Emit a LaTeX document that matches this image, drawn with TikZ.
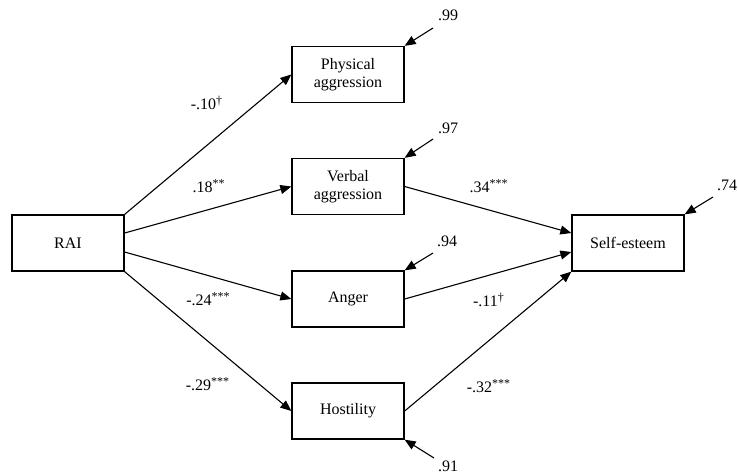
\documentclass[tikz,border=0pt]{standalone}
\usepackage{fontspec}
\setmainfont{Liberation Serif}
\usetikzlibrary{arrows.meta}
\tikzset{
  var/.style={draw, line width=0.65pt, minimum width=56pt, minimum height=28pt, inner sep=0pt, align=center, font=\fontsize{8}{9.2}\selectfont},
  path/.style={line width=0.55pt, -{Triangle[length=5.5pt,width=4.5pt]}},
  coef/.style={font=\fontsize{8}{9.2}\selectfont, inner sep=0pt},
}
\begin{document}
\begin{tikzpicture}[x=0.5pt,y=-0.5pt]
\useasboundingbox (0,0) rectangle (738,473);
% variables
\node[var] (rai) at (68,243) {RAI};
\node[var] (phys) at (348,74.5) {Physical\\aggression};
\node[var] (verb) at (348,186.5) {Verbal\\aggression};
\node[var] (ang) at (348,299) {Anger};
\node[var] (host) at (348,411) {Hostility};
\node[var] (self) at (628,243) {Self-esteem};
% paths from RAI
\draw[path] (rai.north east) -- (phys.west);
\draw[path] ([yshift=5pt]rai.east) -- (verb.west);
\draw[path] ([yshift=-4.5pt]rai.east) -- (ang.west);
\draw[path] (rai.south east) -- (host.west);
% paths to self-esteem
\draw[path] (verb.east) -- ([yshift=5pt]self.west);
\draw[path] (ang.east) -- ([yshift=-4.5pt]self.west);
\draw[path] (host.east) -- (self.south west);
% error terms
\coordinate (ephys) at (433,28);
\coordinate (everb) at (433,139);
\coordinate (eang) at (433,253);
\coordinate (ehost) at (434,458);
\coordinate (eself) at (713,197);
\draw[path] (ephys) -- (phys.north east);
\draw[path] (everb) -- (verb.north east);
\draw[path] (eang) -- (ang.north east);
\draw[path] (ehost) -- (host.south east);
\draw[path] (eself) -- (self.north east);
\node[coef] (lphys) at (448,15) {.99};
\node[coef] (lverb) at (448,128) {.97};
\node[coef] (lang) at (447,241) {.94};
\node[coef] (lhost) at (448,466) {.91};
\node[coef] (lself) at (727,185) {.74};
% coefficients
\node[coef] (c1) at (207,103) {-.10\textsuperscript{\textdagger}};
\node[coef] (c2) at (209,186) {.18\textsuperscript{**}};
\node[coef] (c3) at (208.5,299) {-.24\textsuperscript{***}};
\node[coef] (c4) at (208,384) {-.29\textsuperscript{***}};
\node[coef] (c5) at (489,186) {.34\textsuperscript{***}};
\node[coef] (c6) at (489,300) {-.11\textsuperscript{\textdagger}};
\node[coef] (c7) at (489,386) {-.32\textsuperscript{***}};
\end{tikzpicture}
\end{document}
